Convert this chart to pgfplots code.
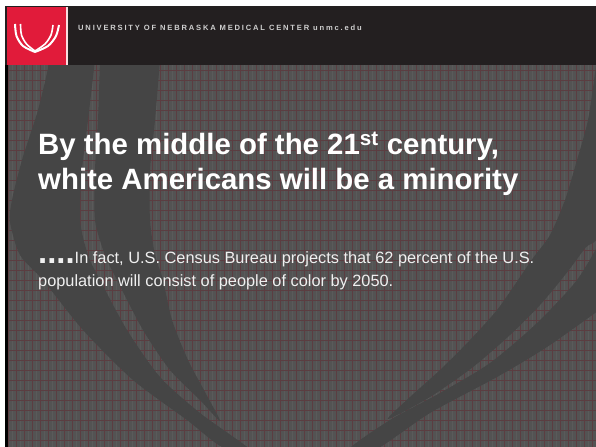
\documentclass[border=0pt]{standalone}
\usepackage{pgfplots}
\pgfplotsset{compat=1.18}
\usepackage{fontspec}
\setmainfont{Liberation Sans}
\newfontfamily\hdrfont[LetterSpace=24]{Liberation Sans}
\definecolor{bgGrey}{HTML}{535353}
\definecolor{gridRed}{HTML}{5B3D41}
\definecolor{gridLight}{HTML}{5A5A5A}
\definecolor{blade}{HTML}{454545}
\definecolor{hdr}{HTML}{231F20}
\definecolor{unmcRed}{HTML}{E11B3A}
\definecolor{hdrText}{HTML}{CFCFCF}
\begin{document}
\begin{tikzpicture}
\begin{axis}[
  width=596bp, height=447bp, scale only axis,
  xmin=0, xmax=596, ymin=0, ymax=447, y dir=reverse,
  axis line style={draw=none}, tick style={draw=none},
  xticklabels={}, yticklabels={},
  ticklabel style={overlay},
  xtick={0,8,...,600}, ytick={0,10,...,450},
  minor x tick num=1,
  grid=both,
  major grid style={draw=gridRed, line width=0.7bp},
  minor grid style={draw=gridLight, line width=0.6bp},
  axis background/.style={fill=bgGrey},
]
% left outer blade
\addplot[fill=blade, draw=none, smooth, tension=0.45] coordinates {
 (50,60) (38,110) (22,160) (12,200) (10,222) (20,255) (43,280) (83,330)
 (133,380) (187,420) (222,447) (253,452) (200,413) (160,377) (127,330)
 (100,280) (88,255) (80,220) (82,170) (88,120) (95,60)} --cycle;
% left inner blade
\addplot[fill=blade, draw=none, smooth, tension=0.45] coordinates {
 (100,60) (98,120) (95,170) (95,220) (105,255) (117,280) (143,330)
 (170,370) (200,400) (220,421) (205,392) (188,360) (172,320) (163,280)
 (155,255) (150,220) (150,170) (155,120) (160,60)} --cycle;
% right upper blade
\addplot[fill=blade, draw=none, smooth, tension=0.45] coordinates {
 (596,66) (588,120) (577,160) (565,200) (550,235) (533,258) (518,280)
 (497,310) (470,340) (440,370) (410,397) (388,419) (430,397) (473,367)
 (510,335) (540,305) (565,275) (585,248) (600,225) (602,66)} --cycle;
% right lower blade
\addplot[fill=blade, draw=none, smooth, tension=0.45] coordinates {
 (602,238) (577,280) (537,323) (490,363) (440,393) (390,420) (348,450)
 (375,450) (430,413) (497,377) (547,347) (602,308)} --cycle;
% white margins and border
\addplot[fill=white, draw=none] coordinates {(0,0) (596,0) (596,6) (0,6)} --cycle;
\addplot[fill=white, draw=none] coordinates {(0,0) (5,0) (5,447) (0,447)} --cycle;
\addplot[fill=black, draw=none] coordinates {(5,6) (8,6) (8,447) (5,447)} --cycle;
% header band
\addplot[fill=hdr, draw=none] coordinates {(5,6) (596,6) (596,65) (5,65)} --cycle;
% red logo box and white rule
\addplot[fill=unmcRed, draw=none] coordinates {(7,7) (66,7) (66,65) (7,65)} --cycle;
\addplot[fill=white!85!unmcRed, draw=none] coordinates {(66,7) (68,7) (68,65) (66,65)} --cycle;
% logo strokes
\addplot[white, line width=2bp, smooth] coordinates {(15,24) (16.5,36) (23,46) (35,52)};
\addplot[white, line width=1.6bp, smooth] coordinates {(20.5,24) (21.5,35) (26.5,44) (35,51)};
\addplot[white, line width=2bp, smooth] coordinates {(59,25) (56,36) (48,46) (35,52)};
\addplot[white, line width=1.6bp, smooth] coordinates {(53,25) (51,35) (45,44) (35,51)};
% texts
\node[anchor=base west, inner sep=0pt, text=hdrText, font=\hdrfont\bfseries\fontsize{7.6}{9}\selectfont] at (axis cs:78,31) {UNIVERSITY OF NEBRASKA MEDICAL CENTER unmc.edu};
\node[anchor=base west, inner sep=0pt, text=white, font=\bfseries\fontsize{29.5}{35}\selectfont] at (axis cs:38,154) {By the middle of the 21\textsuperscript{st} century,};
\node[anchor=base west, inner sep=0pt, text=white, font=\bfseries\fontsize{29.5}{35}\selectfont] at (axis cs:38,189) {white Americans will be a minority};
\node[anchor=base west, inner sep=0pt, text=white!94!black] at (axis cs:38,263) {{\bfseries\fontsize{33}{33}\selectfont....}{\fontsize{16.4}{20}\selectfont In fact, U.S. Census Bureau projects that 62 percent of the U.S.}};
\node[anchor=base west, inner sep=0pt, text=white!94!black, font=\fontsize{16.4}{20}\selectfont] at (axis cs:38,286) {population will consist of people of color by 2050.};
\coordinate (SW) at (axis cs:0,447);
\coordinate (NE) at (axis cs:596,0);
\end{axis}
\pgfresetboundingbox
\path (SW) rectangle (NE);
\end{tikzpicture}
\end{document}
